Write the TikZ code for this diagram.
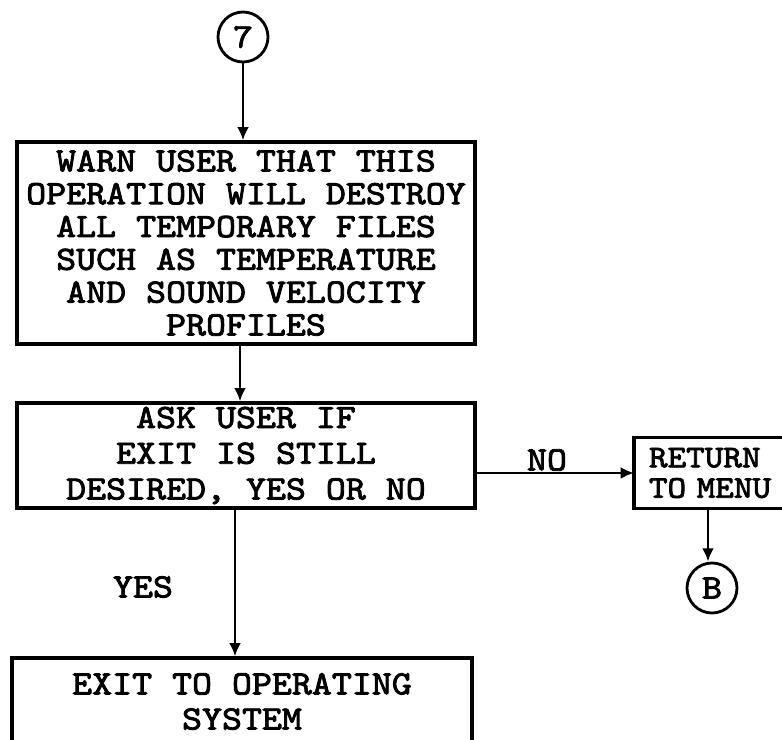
\documentclass[tikz,border=0pt]{standalone}
\usepackage{fontspec}
\newfontfamily\typew{lmmono10-regular.otf}[FakeBold=2.5, FakeStretch=1.12]
\usepackage{tikz}
\usetikzlibrary{arrows.meta, positioning, calc}

\begin{document}
\begin{tikzpicture}[
  x=0.03cm, y=-0.03cm,
  >={Latex[length=0.4cm, width=0.36cm]},
  stepbox/.style={rectangle, draw=black, line width=2.8pt, align=center, inner sep=0pt,
    font=\fontsize{29}{28}\selectfont\typew},
  conn/.style={circle, draw=black, line width=2.4pt, minimum size=1.5cm, inner sep=0pt,
    font=\fontsize{29}{29}\selectfont\typew},
  lbl/.style={font=\fontsize{29}{29}\selectfont\typew},
  flow/.style={->, line width=2.4pt}
]
  \useasboundingbox (0,0) rectangle (782,740);

  \node[conn] (c7) at (243,37) {7};
  \node[stepbox, minimum width=13.74cm, minimum height=6.06cm] (warn) at (246,243)
    {WARN USER THAT THIS\\OPERATION WILL DESTROY\\ALL TEMPORARY FILES\\SUCH AS TEMPERATURE\\AND SOUND VELOCITY\\PROFILES};
  \node[stepbox, minimum width=13.74cm, minimum height=3.15cm,
    font=\fontsize{29}{30.5}\selectfont\typew] (ask) at (246,455.5)
    {ASK USER IF\\EXIT IS STILL\\DESIRED, YES OR NO};
  % box runs off the right edge of the page
  \node[stepbox, draw=none, anchor=west, minimum width=7cm, minimum height=2.04cm, inner xsep=0.39cm,
    text width=6.2cm, align=left, font=\fontsize{27}{26}\selectfont\typew] (ret) at (634,473)
    {RETURN\\TO MENU};
  \draw[line width=2.8pt] (ret.north east) -- (ret.north west) -- (ret.south west) -- (ret.south east);
  \node[conn] (cB) at (712,588) {B};
  \node[stepbox, minimum width=13.8cm, minimum height=2.61cm,
    font=\fontsize{29}{30}\selectfont\typew] (exit) at (242,701.5)
    {EXIT TO OPERATING\\SYSTEM};

  \node[lbl] (no) at (547,460) {NO};
  \node[lbl] (yes) at (143,587) {YES};

  \draw[flow] (c7.south) -- (c7.south |- warn.north);
  \draw[flow] ([xshift=-0.18cm]warn.south) -- ([xshift=-0.18cm]ask.north);
  \draw[flow] (ask.east |- ret.west) -- (ret.west);
  \draw[flow] ([xshift=-0.12cm]cB |- ret.south) -- ([xshift=-0.12cm]cB.north);
  \draw[flow] ([xshift=-0.33cm]ask.south) -- ([xshift=-0.33cm]ask.south |- exit.north);
\end{tikzpicture}
\end{document}
